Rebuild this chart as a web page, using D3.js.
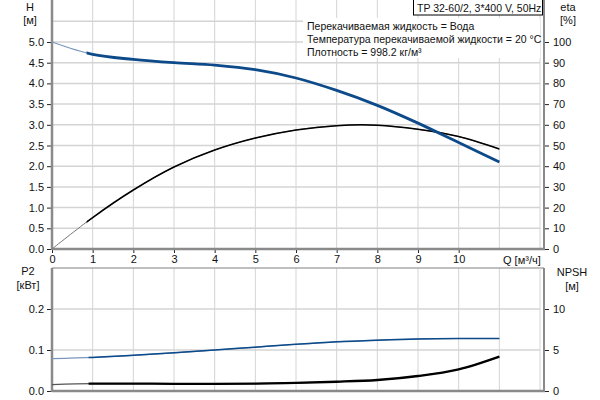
<!DOCTYPE html>
<html><head><meta charset="utf-8">
<script src="https://cdn.jsdelivr.net/npm/d3@7"></script>
<style>body{margin:0;background:#fff}text{font-family:Arial,"Liberation Sans",sans-serif;font-size:11px;fill:#111}</style>
</head><body><svg id="c" width="600" height="400"></svg>
<script>
const Q      = [0,1,2,3,4,5,6,7,8,9,10,11];
const H      = [5.0,4.70,4.58,4.50,4.44,4.33,4.13,3.83,3.47,3.04,2.57,2.10];
const ETA    = [0,15.2,28.5,39.6,47.8,53.6,57.5,59.6,59.8,57.8,54.3,48.3];
const P2     = [0.079,0.082,0.087,0.093,0.100,0.107,0.114,0.120,0.124,0.127,0.128,0.128];
const NPSH   = [0.78,0.9,0.9,0.88,0.86,0.9,1.0,1.13,1.34,1.83,2.65,4.2];
const xTicks = [0,1,2,3,4,5,6,7,8,9,10];
const hTicks = [0,0.5,1,1.5,2,2.5,3,3.5,4,4.5,5];
const etaTicks = [0,10,20,30,40,50,60,70,80,90,100];
const p2Ticks = [0,0.1,0.2];
const npshTicks = [0,5,10];
const title = "TP 32-60/2, 3*400 V, 50Hz";
const legendLines = ["Перекачиваемая жидкость = Вода","Температура перекачиваемой жидкости = 20 °C","Плотность = 998.2 кг/м³"];

const svg = d3.select("#c");
const L = 52, R = 540, AX = 544;
const x = d3.scaleLinear().domain([0,12]).range([L,R]);
const yH = d3.scaleLinear().domain([0,6]).range([249,0.6]);
const yE = d3.scaleLinear().domain([0,120]).range([249,0.6]);
const yP = d3.scaleLinear().domain([0,0.3]).range([391,268]);
const yN = d3.scaleLinear().domain([0,15]).range([391,268]);
const grid = "#d4d4d4", axc = "#8a8a8a";

// grids top
const gT = svg.append("g");
d3.range(1,13).forEach(v=>gT.append("line").attr("x1",x(v)).attr("x2",x(v)).attr("y1",0).attr("y2",249).attr("stroke",grid));
d3.range(0.5,6,0.5).forEach(v=>gT.append("line").attr("x1",L).attr("x2",R).attr("y1",yH(v)).attr("y2",yH(v)).attr("stroke",grid).attr("stroke-width",1.5));
// grids bottom
const gB = svg.append("g");
d3.range(1,12).forEach(v=>gB.append("line").attr("x1",x(v)).attr("x2",x(v)).attr("y1",268).attr("y2",391).attr("stroke",grid));
[0.1,0.2].forEach(v=>gB.append("line").attr("x1",L).attr("x2",R).attr("y1",yP(v)).attr("y2",yP(v)).attr("stroke",grid).attr("stroke-width",1.5));
gB.append("line").attr("x1",L).attr("x2",AX).attr("y1",268).attr("y2",268).attr("stroke","#aaa").attr("stroke-width",1.5);
gB.append("line").attr("x1",R).attr("x2",R).attr("y1",268).attr("y2",391).attr("stroke",grid);

// legend box
svg.append("rect").attr("x",303).attr("y",18).attr("width",237).attr("height",40).attr("fill","#fff");
legendLines.forEach((t,i)=>svg.append("text").attr("x",307).attr("y",29.5+i*13).style("font-size","10.5px").text(t));
// title box
svg.append("rect").attr("x",413.5).attr("y",-1).attr("width",129).attr("height",16).attr("fill","#fff").attr("stroke","#000");
svg.append("text").attr("x",417).attr("y",11.5).style("font-size","10.5px").text(title);

// axes top
function styleAxis(g){g.selectAll(".domain").remove();g.selectAll("line").attr("stroke","#222");g.selectAll("text").attr("fill","#111").style("font-size","11px");}
svg.append("g").attr("transform",`translate(${L},0)`).call(d3.axisLeft(yH).tickValues(hTicks).tickFormat(d3.format(".1f")).tickSize(5).tickPadding(3)).call(styleAxis);
svg.append("g").attr("transform",`translate(${AX},0)`).call(d3.axisRight(yE).tickValues(etaTicks).tickSize(5).tickPadding(4)).call(styleAxis);
svg.append("g").attr("transform",`translate(0,249)`).call(d3.axisBottom(x).tickValues(xTicks).tickSize(4).tickPadding(2)).call(styleAxis);
svg.append("line").attr("x1",L).attr("x2",L).attr("y1",0).attr("y2",250).attr("stroke",axc).attr("stroke-width",2.5);
svg.append("line").attr("x1",L).attr("x2",AX+1).attr("y1",249).attr("y2",249).attr("stroke",axc).attr("stroke-width",2.5);
svg.append("line").attr("x1",AX).attr("x2",AX).attr("y1",0).attr("y2",249).attr("stroke",axc).attr("stroke-width",2);
// axes bottom
svg.append("g").attr("transform",`translate(${L},0)`).call(d3.axisLeft(yP).tickValues(p2Ticks).tickFormat(d3.format(".1f")).tickSize(5).tickPadding(3)).call(styleAxis);
svg.append("g").attr("transform",`translate(${AX},0)`).call(d3.axisRight(yN).tickValues(npshTicks).tickSize(5).tickPadding(4)).call(styleAxis);
svg.append("line").attr("x1",L).attr("x2",L).attr("y1",268).attr("y2",392).attr("stroke",axc).attr("stroke-width",2.5);
svg.append("line").attr("x1",L).attr("x2",AX+1).attr("y1",391).attr("y2",391).attr("stroke",axc).attr("stroke-width",2.5);
svg.append("line").attr("x1",AX).attr("x2",AX).attr("y1",268).attr("y2",391).attr("stroke",axc).attr("stroke-width",2);

// axis titles
function lab(xx,yy,t,anchor){svg.append("text").attr("x",xx).attr("y",yy).attr("text-anchor",anchor||"middle").text(t);}
lab(30,11,"H");lab(30,24,"[м]");
lab(568,11,"eta");lab(568,24,"[%]");
lab(503,264,"Q [м³/ч]","start");
lab(28,275,"P2");lab(28,289,"[кВт]");
lab(572,276,"NPSH");lab(572,290,"[м]");

// curves
const defs = svg.append("defs");
function clip(id,q0,y0,y1){defs.append("clipPath").attr("id",id).append("rect").attr("x",x(q0)).attr("y",y0).attr("width",R-x(q0)+5).attr("height",y1-y0);}
clip("cT",0.85,0,252); clip("cB",0.9,262,395);
function curve(ys,yScale,color,thin,thick,clipId,thinColor){
  const line = d3.line().x((d,i)=>x(Q[i])).y(d=>yScale(d)).curve(d3.curveCatmullRom.alpha(0.5));
  svg.append("path").attr("d",line(ys)).attr("fill","none").attr("stroke",thinColor).attr("stroke-width",thin);
  svg.append("path").attr("d",line(ys)).attr("fill","none").attr("stroke",color).attr("stroke-width",thick).attr("clip-path",`url(#${clipId})`).attr("stroke-linecap","butt");
}
curve(ETA,yE,"#000",1,1.5,"cT","#777");
curve(H,yH,"#0d4a8a",1.2,2.8,"cT","#7b96bd");
curve(P2,yP,"#0d4a8a",1.2,1.5,"cB","#7b96bd");
curve(NPSH,yN,"#000",1.2,2.3,"cB","#555");
</script></body></html>
